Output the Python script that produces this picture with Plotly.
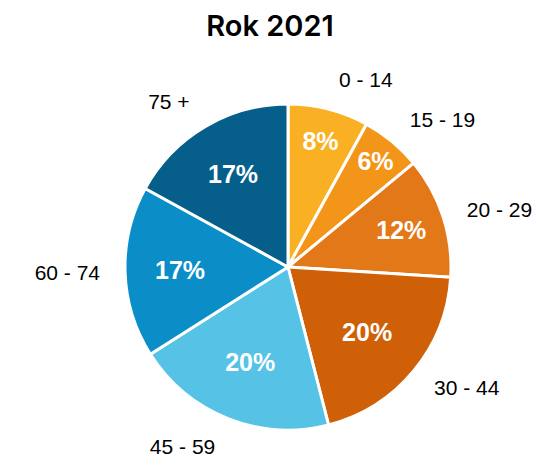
"""Age structure pie chart for 2021."""

import plotly.graph_objects as go

age_groups = ["0 - 14", "15 - 19", "20 - 29", "30 - 44", "45 - 59", "60 - 74", "75 +"]
shares = [8, 6, 12, 20, 20, 17, 17]
colors = ["#F9B123", "#F39519", "#E27818", "#CF6007", "#56C2E6", "#0B8EC8", "#065F8A"]

W, H = 542, 462
# the page body adds an 8px offset, so positions are shifted back by 8
cx, cy, r = 280, 259, 163  # pie centre and radius in pixels
r_lab = 182


def dom(rad):
    yc = H - cy
    return dict(x=[(cx - rad) / W, (cx + rad) / W], y=[(yc - rad) / H, (yc + rad) / H])


fig = go.Figure()

fig.add_trace(
    go.Pie(
        labels=age_groups,
        values=shares,
        sort=False,
        direction="clockwise",
        rotation=0,
        domain=dom(r),
        marker=dict(colors=colors, line=dict(color="white", width=3)),
        texttemplate="%{percent:.0%}",
        textposition="inside",
        insidetextorientation="horizontal",
        textfont=dict(family="Liberation Sans, Arial", size=25, color="white", weight="bold"),
        hoverinfo="label+percent",
        showlegend=False,
    )
)

# transparent copy, a bit larger, only to carry the category labels outside
fig.add_trace(
    go.Pie(
        labels=age_groups,
        values=shares,
        sort=False,
        direction="clockwise",
        rotation=0,
        domain=dom(r_lab),
        marker=dict(colors=["rgba(0,0,0,0)"] * len(shares), line=dict(width=0)),
        texttemplate="%{label}",
        textposition="outside",
        textfont=dict(family="Liberation Sans, Arial", size=21, color="black"),
        hoverinfo="skip",
        showlegend=False,
    )
)

fig.update_layout(
    width=W,
    height=H,
    margin=dict(l=0, r=0, t=0, b=0),
    paper_bgcolor="white",
    plot_bgcolor="white",
    title=dict(
        text="Rok 2021",
        x=(270 - 8) / W,
        xanchor="center",
        y=1 - 18 / H,
        yanchor="middle",
        font=dict(family="Inter, Noto Sans", size=29, color="black", weight=600),
    ),
)

fig.write_html("out.html")
